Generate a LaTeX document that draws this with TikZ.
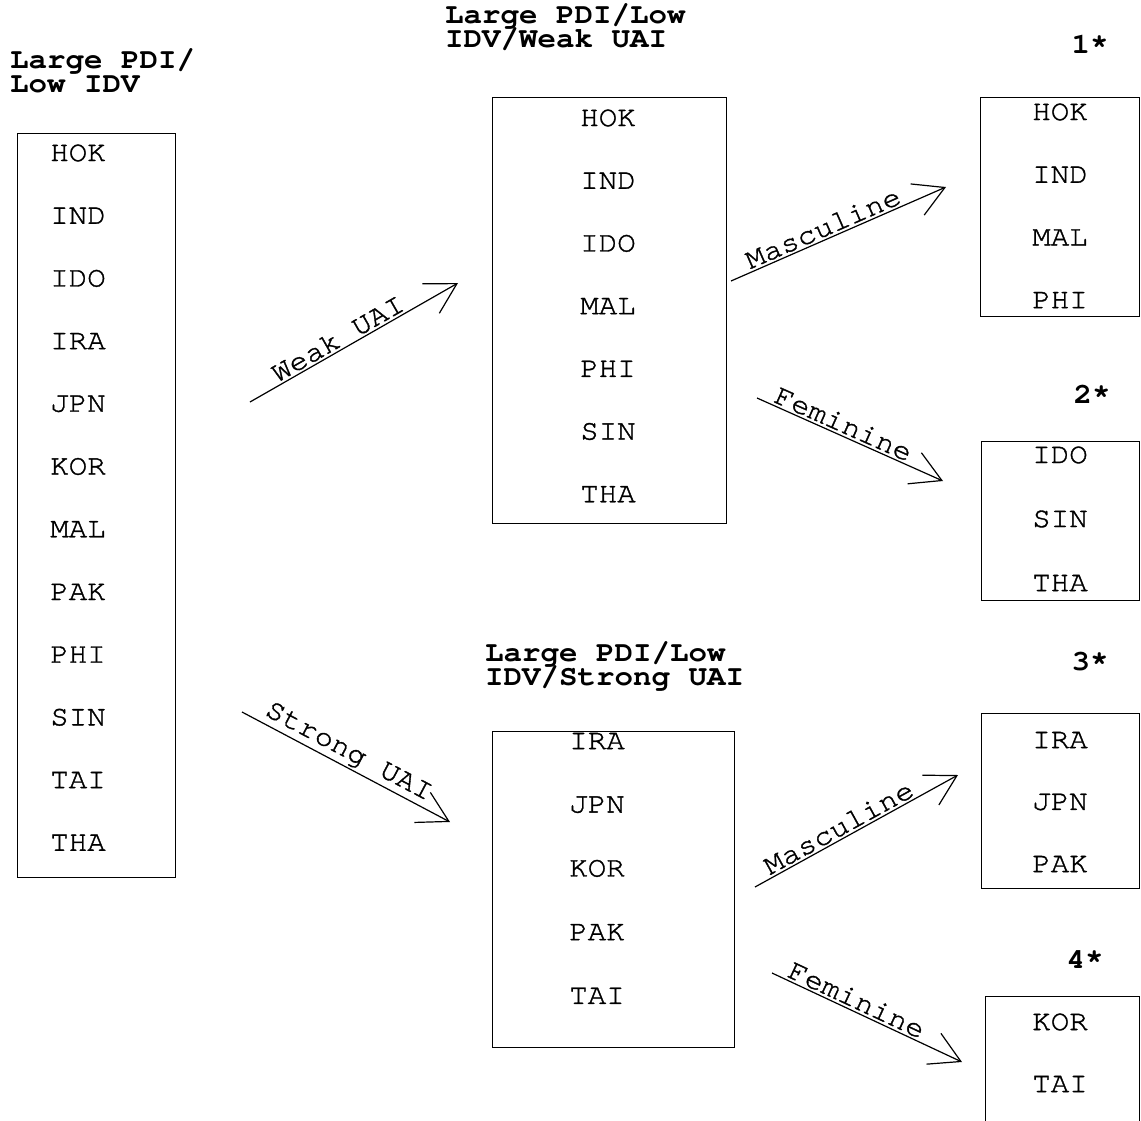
\documentclass[tikz,border=0pt]{standalone}
\usepackage{fontspec}
\setmonofont{TeX Gyre Cursor}[FakeStretch=1.07]
\newfontfamily\typed{TeX Gyre Cursor}[FakeStretch=1.07,FakeBold=1.2]
\usetikzlibrary{arrows.meta}

\begin{document}
\begin{tikzpicture}[x=1pt,y=-1pt,
  font=\typed\fontsize{28.8}{24}\selectfont,
  box/.style={draw,line width=1.3pt,inner sep=0pt,anchor=north west},
  ttl/.style={font=\ttfamily\bfseries\fontsize{28.8}{24}\selectfont,anchor=base west,inner sep=0pt},
  grp/.style={font=\ttfamily\bfseries\fontsize{28.8}{24}\selectfont,anchor=base,inner sep=0pt},
  flow/.style={line width=1.2pt,-{Straight Barb[length=30pt,width=34pt,line width=1.2pt]}},
  lbl/.style={sloped,above=1pt,inner sep=1pt}]
  \useasboundingbox (0,0) rectangle (1141,1120);

  % first split
  \node[ttl] (t1a) at (10,68) {Large PDI/};
  \node[ttl] (t1b) at (10,92) {Low IDV};
  \node[box,minimum width=158,minimum height=744] (all) at (17,133) {};
  \foreach \c [count=\i] in {HOK,IND,IDO,IRA,JPN,KOR,MAL,PAK,PHI,SIN,TAI,THA}
    \node (all-\i) at (78,{153+62.7*(\i-1)}) {\c};

  % weak / strong UAI
  \node[ttl] (t2a) at (445,23) {Large PDI/Low};
  \node[ttl] (t2b) at (445,47) {IDV/Weak UAI};
  \node[box,minimum width=234,minimum height=426] (weak) at (492,97) {};
  \foreach \c [count=\i] in {HOK,IND,IDO,MAL,PHI,SIN,THA}
    \node (weak-\i) at (608,{118+62.7*(\i-1)}) {\c};

  \node[ttl] (t3a) at (485,661) {Large PDI/Low};
  \node[ttl] (t3b) at (485,685) {IDV/Strong UAI};
  \node[box,minimum width=242,minimum height=316] (strong) at (492,731) {};
  \foreach \c [count=\i] in {IRA,JPN,KOR,PAK,TAI}
    \node (strong-\i) at (597,{741+63.7*(\i-1)}) {\c};

  % final groups
  \node[grp] (g1) at (1090,53) {1*};
  \node[box,minimum width=159,minimum height=219] (c1) at (980,97) {};
  \foreach \c [count=\i] in {HOK,IND,MAL,PHI}
    \node (c1-\i) at (1060,{112+62.7*(\i-1)}) {\c};

  \node[grp] (g2) at (1092,403) {2*};
  \node[box,minimum width=158,minimum height=159] (c2) at (981,441) {};
  \foreach \c [count=\i] in {IDO,SIN,THA}
    \node (c2-\i) at (1060,{455+64*(\i-1)}) {\c};

  \node[grp] (g3) at (1090,670) {3*};
  \node[box,minimum width=158,minimum height=175] (c3) at (981,713) {};
  \foreach \c [count=\i] in {IRA,JPN,PAK}
    \node (c3-\i) at (1060,{740+62*(\i-1)}) {\c};

  \node[grp] (g4) at (1085,968) {4*};
  \node[box,minimum width=154,minimum height=130] (c4) at (985,996) {};
  \foreach \c [count=\i] in {KOR,TAI}
    \node (c4-\i) at (1060,{1022+62*(\i-1)}) {\c};

  % arrows
  \coordinate (w0) at (250,402);  \coordinate (w1) at (458,283);
  \coordinate (s0) at (242,712);  \coordinate (s1) at (450,822);
  \coordinate (m0) at (731,281);  \coordinate (m1) at (946,187);
  \coordinate (f0) at (757,398);  \coordinate (f1) at (943,481);
  \coordinate (n0) at (755,887);  \coordinate (n1) at (958,775);
  \coordinate (e0) at (772,973);  \coordinate (e1) at (962,1062);
  \draw[flow] (w0) -- node[lbl,pos=0.45] (wl) {Weak UAI} (w1);
  \draw[flow] (s0) -- node[lbl,pos=0.48] (sl) {Strong UAI} (s1);
  \draw[flow] (m0) -- node[lbl,pos=0.45] (ml) {Masculine} (m1);
  \draw[flow] (f0) -- node[lbl,pos=0.44] (fl) {Feminine} (f1);
  \draw[flow] (n0) -- node[lbl,pos=0.44] (nl) {Masculine} (n1);
  \draw[flow] (e0) -- node[lbl,pos=0.42] (el) {Feminine} (e1);
\end{tikzpicture}
\end{document}
